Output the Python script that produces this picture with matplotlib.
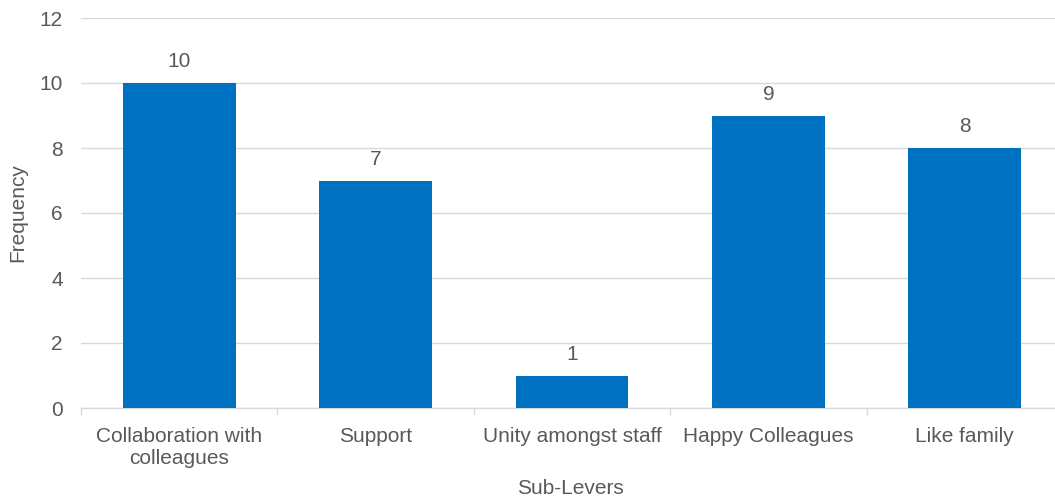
import matplotlib
matplotlib.use("Agg")
import matplotlib.pyplot as plt
import numpy as np

categories = ["Collaboration with\ncolleagues", "Support", "Unity amongst staff",
              "Happy Colleagues", "Like family"]
frequency = [10, 7, 1, 9, 8]
y_ticks = [0, 2, 4, 6, 8, 10, 12]

plt.rcParams["font.family"] = ["Liberation Sans", "DejaVu Sans"]
text_color = "#595959"
grid_color = "#d9d9d9"
bar_color = "#0070C0"
fs = 15

W, H = 1055, 501
fig = plt.figure(figsize=(W / 100, H / 100), dpi=100)
left, right, top, bottom = 81, 1063, 18, 408
ax = fig.add_axes([left / W, 1 - bottom / H, (right - left) / W, (bottom - top) / H])

x = np.arange(len(categories))
ax.bar(x, frequency, width=0.575, color=bar_color, zorder=3)
for xi, v in zip(x, frequency):
    ax.annotate(str(v), (xi, v), xytext=(0, 11.5), textcoords="offset points",
                ha="center", va="baseline", fontsize=fs, color=text_color)

ax.set_xlim(-0.5, len(categories) - 0.5)
ax.set_ylim(0, 12)
ax.set_yticks(y_ticks)
ax.yaxis.grid(True, color=grid_color, linewidth=1, zorder=0)
ax.set_axisbelow(True)

ax.set_xticks(x)
ax.set_xticklabels(categories, fontsize=fs, color=text_color, linespacing=1.2)
ax.set_xticks(np.arange(len(categories) + 1) - 0.5, minor=True)
ax.tick_params(axis="x", which="major", length=0, pad=13.5)
ax.tick_params(axis="x", which="minor", length=5, color=grid_color, width=1)
ax.tick_params(axis="y", length=0, labelsize=fs, labelcolor=text_color, pad=13)

for side in ["top", "right", "left"]:
    ax.spines[side].set_visible(False)
ax.spines["bottom"].set_color(grid_color)
ax.spines["bottom"].set_linewidth(1)

ax.set_ylabel("Frequency", fontsize=fs, color=text_color, va="center")
ax.set_xlabel("Sub-Levers", fontsize=fs, color=text_color, va="center")
ax.yaxis.set_label_coords(-(81 - 18) / (right - left), 0.5)
ax.xaxis.set_label_coords((570 - left) / (right - left), -(489 - 408) / (bottom - top))

fig.savefig("out.png", dpi=100)
